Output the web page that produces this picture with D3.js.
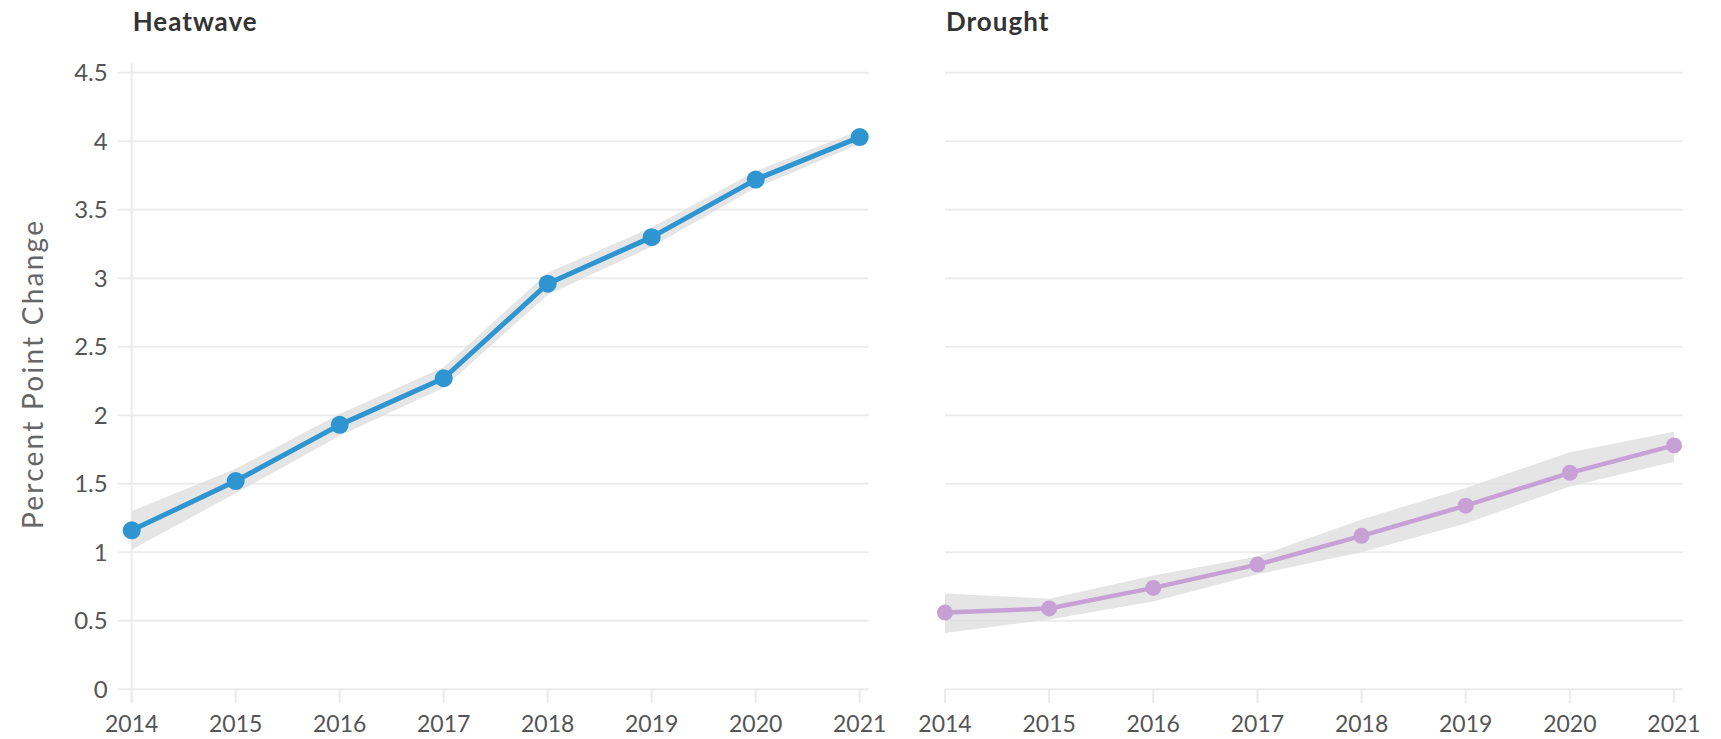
<!DOCTYPE html>
<html>
<head>
<meta charset="utf-8">
<script src="https://cdn.jsdelivr.net/npm/d3@7"></script>
<style>
  html, body { margin: 0; padding: 0; background: #fff; }
  svg { display: block; }
  text { font-family: Lato, "Open Sans", sans-serif; }
</style>
</head>
<body>
<svg id="chart" width="1721" height="739"></svg>
<script>
// Years on the x axis
const years = [2014, 2015, 2016, 2017, 2018, 2019, 2020, 2021];

// Heatwave: estimate with lower / upper bounds
const heatwave      = [1.16, 1.52, 1.93, 2.27, 2.96, 3.30, 3.72, 4.03];
const heatwaveLower = [1.02, 1.43, 1.85, 2.20, 2.88, 3.23, 3.66, 3.98];
const heatwaveUpper = [1.30, 1.61, 2.01, 2.35, 3.04, 3.37, 3.78, 4.08];

// Drought: estimate with lower / upper bounds
const drought      = [0.56, 0.59, 0.74, 0.91, 1.12, 1.34, 1.58, 1.78];
const droughtLower = [0.41, 0.51, 0.64, 0.84, 1.00, 1.21, 1.48, 1.66];
const droughtUpper = [0.70, 0.66, 0.83, 0.97, 1.24, 1.47, 1.73, 1.88];

// Shared y ticks
const yTicks = [0, 0.5, 1, 1.5, 2, 2.5, 3, 3.5, 4, 4.5];

const panels = [
  { title: "Heatwave", values: heatwave, lower: heatwaveLower, upper: heatwaveUpper,
    color: "#2f95d1", x0: 131.7, x1: 859.7, yAxis: true, lineW: 5, r: 9 },
  { title: "Drought", values: drought, lower: droughtLower, upper: droughtUpper,
    color: "#c7a0d6", x0: 945, x1: 1674, yAxis: false, lineW: 4.5, r: 8 }
];

const svg = d3.select("#chart");
const y = d3.scaleLinear().domain([0, 4.5]).range([689.3, 72.7]);

const gridColor = "#ececec";
const labelColor = "#555";

// y axis title
svg.append("text")
  .attr("transform", `translate(43, ${y(2.25) - 6}) rotate(-90)`)
  .attr("text-anchor", "middle")
  .attr("font-size", 28)
  .attr("fill", "#666")
  .attr("textLength", 308)
  .attr("lengthAdjust", "spacing")
  .text("Percent Point Change");

panels.forEach(p => {
  const x = d3.scaleLinear().domain([years[0], years[years.length - 1]]).range([p.x0, p.x1]);
  const g = svg.append("g");

  // horizontal grid lines
  const gridLeft = p.yAxis ? p.x0 - 14 : p.x0;
  g.append("g").selectAll("line").data(yTicks).join("line")
    .attr("x1", gridLeft).attr("x2", p.x1 + 9)
    .attr("y1", d => y(d)).attr("y2", d => y(d))
    .attr("stroke", gridColor).attr("stroke-width", 2);

  // left axis line on the first panel
  if (p.yAxis) {
    g.append("line")
      .attr("x1", p.x0).attr("x2", p.x0)
      .attr("y1", y(4.5) - 10).attr("y2", y(0) + 14)
      .attr("stroke", gridColor).attr("stroke-width", 2);

    g.append("g").selectAll("text").data(yTicks).join("text")
      .attr("x", p.x0 - 24).attr("y", d => y(d))
      .attr("dy", "0.36em")
      .attr("text-anchor", "end")
      .attr("font-size", 24)
      .attr("fill", labelColor)
      .text(d => d3.format("")(d));
  }

  // x ticks and labels
  g.append("g").selectAll("line").data(years).join("line")
    .attr("x1", d => x(d)).attr("x2", d => x(d))
    .attr("y1", y(0)).attr("y2", y(0) + 14)
    .attr("stroke", gridColor).attr("stroke-width", 2);

  g.append("g").selectAll("text").data(years).join("text")
    .attr("x", d => x(d)).attr("y", y(0) + 43)
    .attr("text-anchor", "middle")
    .attr("font-size", 23)
    .attr("fill", labelColor)
    .text(d => d);

  // confidence band
  const area = d3.area()
    .x((d, i) => x(years[i]))
    .y0((d, i) => y(p.lower[i]))
    .y1((d, i) => y(p.upper[i]));
  g.append("path").datum(p.values)
    .attr("d", area)
    .attr("fill", "#dcdcdc").attr("fill-opacity", 0.75);

  // line
  const line = d3.line().x((d, i) => x(years[i])).y(d => y(d));
  g.append("path").datum(p.values)
    .attr("d", line)
    .attr("fill", "none")
    .attr("stroke", p.color)
    .attr("stroke-width", p.lineW)
    .attr("stroke-linejoin", "round");

  // points
  g.append("g").selectAll("circle").data(p.values).join("circle")
    .attr("cx", (d, i) => x(years[i]))
    .attr("cy", d => y(d))
    .attr("r", p.r)
    .attr("fill", p.color);

  // panel title
  g.append("text")
    .attr("x", p.x0 + 1).attr("y", 31)
    .attr("font-size", 26)
    .attr("font-weight", "bold")
    .attr("letter-spacing", 1)
    .attr("fill", "#333")
    .text(p.title);
});
</script>
</body>
</html>
